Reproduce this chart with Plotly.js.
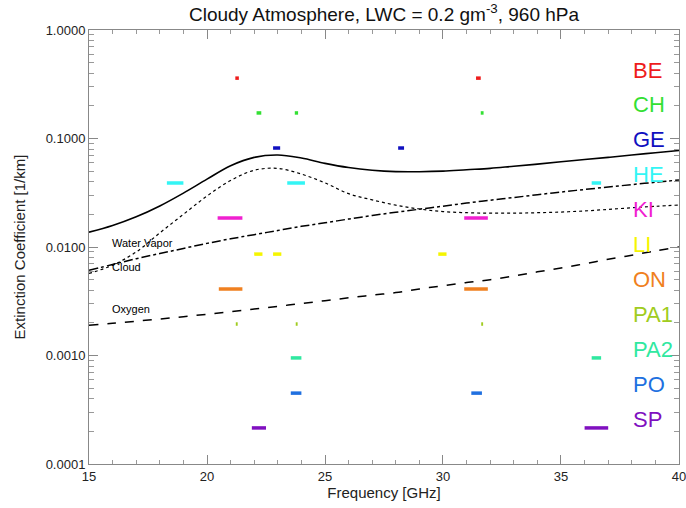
<!DOCTYPE html>
<html>
<head>
<meta charset="utf-8">
<script src="https://cdn.plot.ly/plotly-3.0.1.min.js"></script>
<style>html,body{margin:0;padding:0;background:#fff;}#chart{width:686px;height:508px;}</style>
</head>
<body>
<div id="chart"></div>
<script>
// Frequency grid [GHz]
const freq = [15,16,17,18,19,20,21,22,23,24,25,26,27,28,29,30,31,32,33,34,35,36,37,38,39,40];
// Extinction coefficients [1/km]
const total = [0.0137,0.0158,0.0190,0.0239,0.0314,0.0422,0.0561,0.0670,0.0705,0.0660,0.0590,0.0540,0.0510,0.0495,0.0494,0.0500,0.0515,0.0530,0.0555,0.0580,0.0610,0.0640,0.0670,0.0705,0.0740,0.0775];
const waterVapor = [0.0057,0.0068,0.0090,0.0135,0.0200,0.0295,0.0410,0.0510,0.0530,0.0470,0.0390,0.0310,0.0272,0.0243,0.0224,0.0212,0.0207,0.0205,0.0205,0.0207,0.0210,0.0215,0.0222,0.0230,0.0237,0.0244];
const cloud = [0.0061,0.0069,0.0078,0.0087,0.0097,0.0108,0.0119,0.0130,0.0142,0.0155,0.0167,0.0181,0.0195,0.0209,0.0223,0.0238,0.0254,0.0270,0.0286,0.0303,0.0321,0.0339,0.0357,0.0376,0.0395,0.0415];
const oxygen = [0.0019,0.00198,0.00207,0.00217,0.00228,0.0024,0.00254,0.00268,0.00284,0.00301,0.0032,0.0034,0.0036,0.0038,0.0041,0.0044,0.0047,0.0050,0.0054,0.0059,0.0064,0.0070,0.0077,0.0084,0.0092,0.0100];

// Radiometer stations: display level and frequency bands [start, end] in GHz
const stations = ["BE","CH","GE","HE","KI","LI","ON","PA1","PA2","PO","SP"];
const stationLevels = [0.36,0.172,0.0817,0.0389,0.0185,0.0086,0.0041,0.00195,0.00095,0.00045,0.000215];
const stationBands = [
  [[21.2,21.35],[31.4,31.6]],
  [[22.1,22.3],[23.72,23.86],[31.6,31.72]],
  [[22.8,23.1],[28.1,28.35]],
  [[18.3,19.0],[23.4,24.15],[36.3,36.7]],
  [[20.45,21.5],[30.9,31.9]],
  [[22.0,22.35],[22.8,23.15],[29.8,30.15]],
  [[20.5,21.5],[30.9,31.9]],
  [[21.22,21.3],[23.76,23.84],[31.62,31.7]],
  [[23.55,24.0],[36.3,36.7]],
  [[23.55,24.0],[31.2,31.65]],
  [[21.9,22.5],[36.0,37.0]]
];
const stationColors = ["#ee1c1c","#33e033","#1010c0","#33f5f5","#f020d0","#f5f500","#f08020","#a0cc20","#30e8a0","#2070e0","#8010c0"];

const FONT = "Liberation Sans, Arial, Helvetica, sans-serif";
const traces = [];
traces.push({x:freq,y:total,mode:"lines",line:{color:"#000",width:1.6,shape:"spline"},showlegend:false,hoverinfo:"skip"});
traces.push({x:freq,y:waterVapor,mode:"lines",line:{color:"#000",width:1.2,dash:"dot",shape:"spline"},showlegend:false,hoverinfo:"skip"});
traces.push({x:freq,y:cloud,mode:"lines",line:{color:"#000",width:1.5,dash:"dashdot",shape:"spline"},showlegend:false,hoverinfo:"skip"});
traces.push({x:freq,y:oxygen,mode:"lines",line:{color:"#000",width:1.5,dash:"dash",shape:"spline"},showlegend:false,hoverinfo:"skip"});

stations.forEach((s,i)=>{
  stationBands[i].forEach(b=>{
    traces.push({x:[b[0],b[1]],y:[stationLevels[i],stationLevels[i]],mode:"lines",
      line:{color:stationColors[i],width:3.5},showlegend:false,hoverinfo:"skip"});
  });
});

const annotations = [];
// Station labels on the right
stations.forEach((s,i)=>{
  annotations.push({text:s,xref:"paper",yref:"paper",x:(631-89)/590,y:1-((70+i*34.9)-30)/434,
    xanchor:"left",yanchor:"middle",showarrow:false,font:{family:FONT,size:22,color:stationColors[i]}});
});
// Curve labels
const curveLabels = [["Water Vapor",243],["Cloud",267],["Oxygen",309]];
curveLabels.forEach(c=>{
  annotations.push({text:c[0],xref:"paper",yref:"paper",x:(110-89)/590,y:1-(c[1]-30)/434,
    xanchor:"left",yanchor:"middle",showarrow:false,font:{family:FONT,size:11,color:"#000"}});
});

const yMinor = [];
[0.0001,0.001,0.01,0.1].forEach(d=>{for(let k=2;k<=9;k++) yMinor.push(d*k);});

const layout = {
  width:686,height:508,
  margin:{l:89,r:7,t:30,b:44},
  paper_bgcolor:"#fff",plot_bgcolor:"#fff",
  font:{family:FONT,size:13,color:"#222"},
  title:{text:"Cloudy Atmosphere, LWC = 0.2 gm<sup>-3</sup>, 960 hPa",font:{family:FONT,size:19,color:"#111"},
    x:384/686,xanchor:"center",y:1-14/508,yanchor:"middle"},
  xaxis:{range:[15,40.0005],tickvals:[15,20,25,30,35,40],ticktext:["15","20","25","30","35","40"],
    ticks:"inside",ticklen:9,tickcolor:"#888",mirror:"allticks",showline:true,linecolor:"#888",linewidth:1,
    showgrid:false,zeroline:false,tickfont:{family:FONT,size:13,color:"#222"},ticklabeloverflow:"allow",
    minor:{dtick:1,tick0:15,ticks:"inside",ticklen:4,tickcolor:"#999",showgrid:false},
    title:{text:"Frequency [GHz]",font:{family:FONT,size:15,color:"#222"},standoff:4}},
  yaxis:{type:"log",range:[-4,0],tickvals:[0.0001,0.001,0.01,0.1,1],ticktext:["0.0001","0.0010","0.0100","0.1000","1.0000"],
    ticks:"inside",ticklen:9,tickcolor:"#888",mirror:"allticks",showline:true,linecolor:"#888",linewidth:1,
    showgrid:false,zeroline:false,tickfont:{family:FONT,size:13,color:"#222"},
    minor:{tickvals:yMinor,ticks:"inside",ticklen:5,tickcolor:"#999",showgrid:false},
    title:{text:"Extinction Coefficient [1/km]",font:{family:FONT,size:15,color:"#222"},standoff:16}},
  annotations:annotations,
  showlegend:false
};
Plotly.newPlot("chart",traces,layout,{staticPlot:true,displayModeBar:false});
</script>
</body>
</html>
